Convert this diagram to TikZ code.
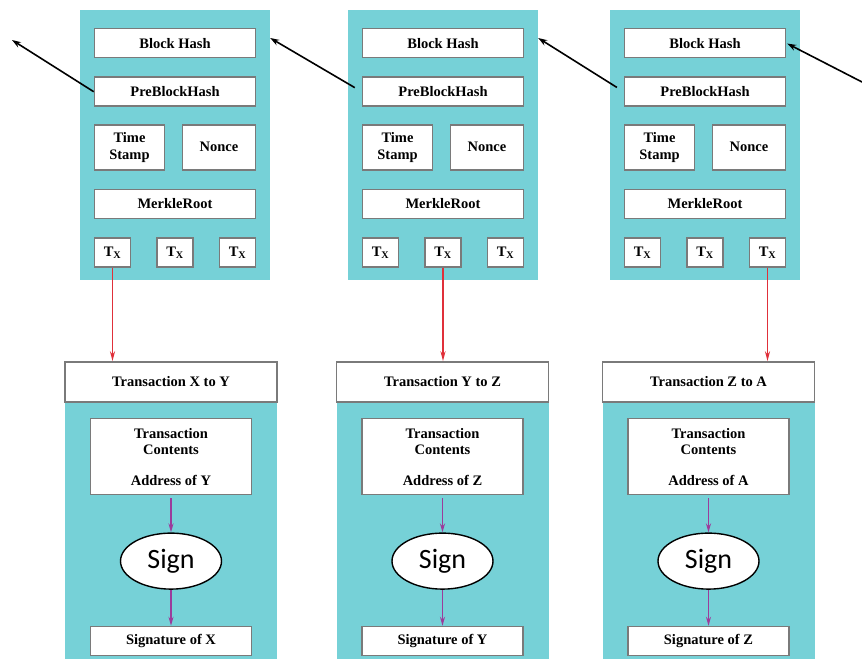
\documentclass[tikz,border=0pt]{standalone}
\usepackage{fontspec}
\setmainfont{Liberation Serif}
\newfontfamily\signfont{Carlito}
\usetikzlibrary{positioning}
\usetikzlibrary{arrows.meta,shapes.geometric}
\definecolor{blockteal}{HTML}{76D1D7}
\definecolor{boxgray}{HTML}{7A7A7A}
\definecolor{txred}{HTML}{E0303A}
\definecolor{signpurple}{HTML}{9B3C9B}
\tikzset{
    every node/.style={font=\fontsize{14.5}{16.5}\selectfont\bfseries},
    block/.style={fill=blockteal, inner sep=0pt, minimum width=190pt, minimum height=270pt},
    lowblock/.style={fill=blockteal, inner sep=0pt, minimum width=212pt, minimum height=256pt},
    field/.style={draw=boxgray, line width=1.6pt, fill=white, inner sep=0pt, align=center},
    hashbox/.style={field, minimum width=161pt, minimum height=29pt},
    halfbox/.style={field, minimum height=45pt},
    txbox/.style={field, minimum width=36pt, minimum height=29pt},
    headbox/.style={field, minimum width=212pt, minimum height=40pt},
    contentbox/.style={field, minimum width=161pt, minimum height=76pt},
    signnode/.style={ellipse, draw=black, line width=1.4pt, fill=white, inner sep=0pt,
        minimum width=101pt, minimum height=56pt, font=\signfont\fontsize{28}{30}\selectfont}
}

\begin{document}
\begin{tikzpicture}[
            x = 1pt, y = -1pt, % picture in pixels
            chain/.style = {-{Stealth[length=9pt,width=6pt]}, line width=1.6pt},
            txlink/.style = {-{Stealth[length=10pt,width=5pt]}, txred, line width=1.6pt},
            signlink/.style = {-{Stealth[length=9pt,width=5pt]}, signpurple, line width=1.6pt}
        ]
        \useasboundingbox (0,0) rectangle (862,659);

        % blocks of the chain
        \node[block] (blk1) at (175,145) {};
        \node[hashbox] [below=18pt of blk1.north] (bh1) {Block Hash};
        \node[hashbox] [below=18pt of bh1] (pbh1) {PreBlockHash};
        \node[halfbox, minimum width=70pt] [below right=17pt and 0pt of pbh1.south west] (ts1) {Time\\Stamp};
        \node[halfbox, minimum width=73pt] [below left=17pt and 0pt of pbh1.south east] (nc1) {Nonce};
        \node[hashbox] [below right=18pt and 0pt of ts1.south west] (mr1) {MerkleRoot};
        \node[txbox] [below right=18pt and 0pt of mr1.south west] (tx1a) {T\textsubscript{X}};
        \node[txbox] [below=18pt of mr1] (tx1b) {T\textsubscript{X}};
        \node[txbox] [below left=18pt and 0pt of mr1.south east] (tx1c) {T\textsubscript{X}};

        \node[block] (blk2) at (443,145) {};
        \node[hashbox] [below=18pt of blk2.north] (bh2) {Block Hash};
        \node[hashbox] [below=18pt of bh2] (pbh2) {PreBlockHash};
        \node[halfbox, minimum width=70pt] [below right=17pt and 0pt of pbh2.south west] (ts2) {Time\\Stamp};
        \node[halfbox, minimum width=73pt] [below left=17pt and 0pt of pbh2.south east] (nc2) {Nonce};
        \node[hashbox] [below right=18pt and 0pt of ts2.south west] (mr2) {MerkleRoot};
        \node[txbox] [below right=18pt and 0pt of mr2.south west] (tx2a) {T\textsubscript{X}};
        \node[txbox] [below=18pt of mr2] (tx2b) {T\textsubscript{X}};
        \node[txbox] [below left=18pt and 0pt of mr2.south east] (tx2c) {T\textsubscript{X}};

        \node[block] (blk3) at (705,145) {};
        \node[hashbox] [below=18pt of blk3.north] (bh3) {Block Hash};
        \node[hashbox] [below=18pt of bh3] (pbh3) {PreBlockHash};
        \node[halfbox, minimum width=70pt] [below right=17pt and 0pt of pbh3.south west] (ts3) {Time\\Stamp};
        \node[halfbox, minimum width=73pt] [below left=17pt and 0pt of pbh3.south east] (nc3) {Nonce};
        \node[hashbox] [below right=18pt and 0pt of ts3.south west] (mr3) {MerkleRoot};
        \node[txbox] [below right=18pt and 0pt of mr3.south west] (tx3a) {T\textsubscript{X}};
        \node[txbox] [below=18pt of mr3] (tx3b) {T\textsubscript{X}};
        \node[txbox] [below left=18pt and 0pt of mr3.south east] (tx3c) {T\textsubscript{X}};

        % transactions
        \node[lowblock] (low1) at (171,531) {};
        \node[headbox] [above=0pt of low1] (tr1) {Transaction X to Y};
        \node[contentbox] [below=15pt of tr1] (cc1) {Transaction\\Contents\\[14pt]Address of Y};
        \node[signnode] [below=37pt of cc1] (sg1) {Sign};
        \node[hashbox] [below=36pt of sg1] (sig1) {Signature of X};

        \node[lowblock] (low2) at (442.5,531) {};
        \node[headbox] [above=0pt of low2] (tr2) {Transaction Y to Z};
        \node[contentbox] [below=15pt of tr2] (cc2) {Transaction\\Contents\\[14pt]Address of Z};
        \node[signnode] [below=37pt of cc2] (sg2) {Sign};
        \node[hashbox] [below=36pt of sg2] (sig2) {Signature of Y};

        \node[lowblock] (low3) at (708.5,531) {};
        \node[headbox] [above=0pt of low3] (tr3) {Transaction Z to A};
        \node[contentbox] [below=15pt of tr3] (cc3) {Transaction\\Contents\\[14pt]Address of A};
        \node[signnode] [below=37pt of cc3] (sg3) {Sign};
        \node[hashbox] [below=36pt of sg3] (sig3) {Signature of Z};

        % free ends of the chain
        \coordinate (prev) at (12,40);
        \coordinate (next) at (862,82);

        \draw[chain] (pbh1.west) -- (prev);
        \draw[chain, shorten <=8pt] (pbh2.west) -- (blk1.east |- 0,38);
        \draw[chain, shorten <=8pt] (pbh3.west) -- (blk2.east |- 0,38);
        \draw[chain, shorten >=1pt] (next) -- (bh3.east);

        \draw[txlink] (tx1a.south) -- (tx1a.south |- tr1.north);
        \draw[txlink] (tx2b.south) -- (tx2b.south |- tr2.north);
        \draw[txlink] (tx3c.south) -- (tx3c.south |- tr3.north);

        \draw[signlink, shorten <=3pt] (cc1) -- (sg1);
        \draw[signlink] (sg1) -- (sig1);
        \draw[signlink, shorten <=3pt] (cc2) -- (sg2);
        \draw[signlink] (sg2) -- (sig2);
        \draw[signlink, shorten <=3pt] (cc3) -- (sg3);
        \draw[signlink] (sg3) -- (sig3);

  \end{tikzpicture}
\end{document}
